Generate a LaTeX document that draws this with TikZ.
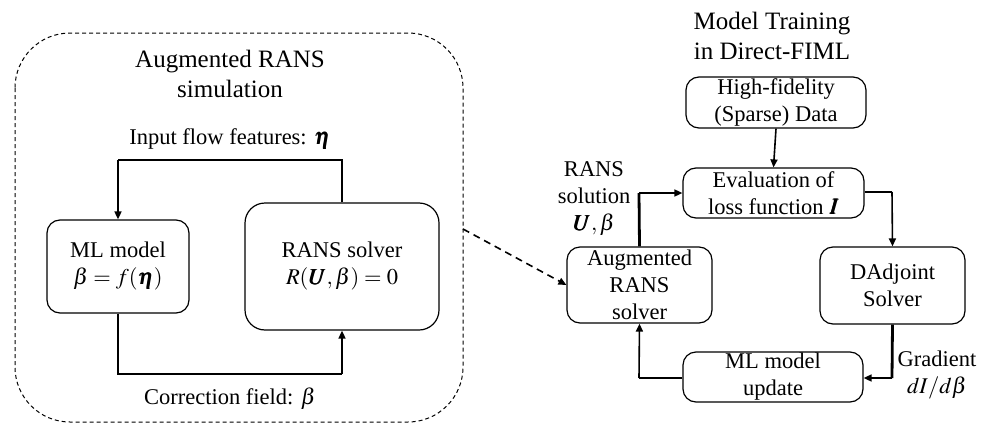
\documentclass[tikz,border=0pt]{standalone}
\usepackage{amsmath}
\usepackage{mathptmx}
\usepackage{bm}
\usepackage{fontspec}
\setmainfont{Liberation Serif}
\usetikzlibrary{arrows.meta}
\tikzset{
  box/.style={draw, rounded corners=13pt, line width=1.2pt, inner sep=0pt,
    align=center, font=\fontsize{22.5}{27}\selectfont},
  lbl/.style={inner sep=0pt, align=center, font=\fontsize{22.5}{27}\selectfont},
  ttl/.style={inner sep=0pt, align=center, font=\fontsize{25}{30}\selectfont},
  link/.style={line width=2.8pt},
  tiplink/.style={line width=1.6pt, -{Triangle[length=8pt,width=7pt]}},
  group/.style={draw, dash pattern=on 4pt off 3pt, line width=1pt, rounded corners=55pt}
}
\begin{document}
\begin{tikzpicture}[x=1pt,y=-1pt]
\useasboundingbox (0,0) rectangle (988,423);
\clip (0,0) rectangle (988,423);

% ---- augmented RANS simulation group ----
\draw[group] (15,33) rectangle (463,422);
\node[ttl] (simtitle) at (230,74) {Augmented RANS\\simulation};
\node[box, minimum width=142pt, minimum height=93pt] (ml) at (118,266.5)
  {ML model\\$\beta=f(\bm{\eta})$};
\node[box, minimum width=194pt, minimum height=127pt, rounded corners=20pt] (rans) at (342,266.5)
  {RANS solver\\$R(\bm{U},\beta)=0$};
\node[lbl] (featlbl) at (230,139) {Input flow features: $\bm{\eta}$};
\node[lbl] (corrlbl) at (230,399) {Correction field: $\beta$};

\coordinate (topL) at (118,160);
\coordinate (botR) at (342,374);
\draw[link] (rans.north) -- (342,160) -- (topL);
\draw[tiplink] (topL) -- (ml.north);
\draw[link] (ml.south) -- (118,374) -- (botR);
\draw[tiplink] (botR) -- (rans.south);

% ---- model training loop ----
\node[ttl] (traintitle) at (772,36) {Model Training\\in Direct-FIML};
\node[box, minimum width=180pt, minimum height=51pt] (hifi) at (776,102.5)
  {High-fidelity\\(Sparse) Data};
\node[box, minimum width=181pt, minimum height=50pt] (eval) at (773.5,193)
  {Evaluation of\\loss function $\bm{I}$};
\node[box, minimum width=145pt, minimum height=77pt] (dadj) at (892.5,285.5)
  {DAdjoint\\Solver};
\node[box, minimum width=180pt, minimum height=50pt] (upd) at (773,377)
  {ML model\\update};
\node[box, minimum width=145pt, minimum height=76pt] (aug) at (639.5,285)
  {Augmented\\RANS\\solver};
\node[lbl] (sollbl) at (594,199) {RANS\\solution\\$\bm{U},\beta$};
\node[lbl] (gradlbl) at (937,375) {Gradient\\$dI/d\beta$};

\draw[tiplink] (hifi.south) -- (eval.north);
\coordinate (c1) at (892,192);
\draw[link] (eval.east |- c1) -- (c1);
\draw[tiplink] (c1) -- (dadj.north);
\coordinate (c2) at (892,378);
\draw[link] (dadj.south) -- (c2);
\draw[tiplink] (c2) -- (upd.east |- c2);
\coordinate (c3) at (639,378);
\draw[link] (upd.west |- c3) -- (c3);
\draw[tiplink] (c3) -- (aug.south);
\coordinate (c4) at (639,193);
\draw[link] (aug.north) -- (c4);
\draw[tiplink] (c4) -- (eval.west |- c4);

% ---- link from the simulation group to the solver box ----
\coordinate (grp) at (463,229);
\draw[line width=1.6pt, dash pattern=on 7pt off 5pt, -{Triangle[length=8pt,width=7pt]}]
  (grp) -- (aug.west);
\end{tikzpicture}
\end{document}
